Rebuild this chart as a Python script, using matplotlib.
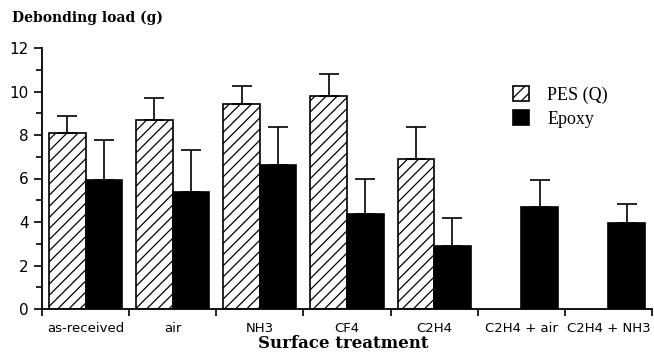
import numpy as np
import matplotlib
matplotlib.use("Agg")
import matplotlib.pyplot as plt

# valeurs
categories = ["as-received", "air", "NH3", "CF4", "C2H4", "C2H4 + air", "C2H4 + NH3"]
pes = [8.08, 8.70, 9.43, 9.80, 6.88, np.nan, np.nan]
pes_top = [8.89, 9.72, 10.23, 10.82, 8.37, np.nan, np.nan]
epoxy = [5.93, 5.36, 6.62, 4.35, 2.89, 4.67, 3.96]
epoxy_top = [7.77, 7.33, 8.37, 5.98, 4.19, 5.92, 4.84]

pes = np.array(pes)
epoxy = np.array(epoxy)
pes_err = np.array(pes_top) - pes
epoxy_err = np.array(epoxy_top) - epoxy

plt.rcParams['hatch.linewidth'] = 0.9

fig = plt.figure(figsize=(6.54, 3.54), dpi=100)
ax = fig.add_axes([42/654, 1 - 309/354, 610/654, 261/354])

x = np.arange(len(categories))
w = 0.42
ok = ~np.isnan(pes)
ax.bar(x[ok] - w/2, pes[ok], w, color="white", edgecolor="black", hatch="///",
       linewidth=1.2, label="PES (Q)",
       yerr=[np.zeros(ok.sum()), pes_err[ok]], capsize=7,
       error_kw=dict(elinewidth=1.2, capthick=1.2, ecolor="black"))
ax.bar(x + w/2, epoxy, w, color="black", edgecolor="black", linewidth=1.2,
       label="Epoxy",
       yerr=[np.zeros(len(x)), epoxy_err], capsize=7,
       error_kw=dict(elinewidth=1.2, capthick=1.2, ecolor="black"))

ax.set_xlim(-0.5, len(categories) - 0.5)
ax.set_ylim(0, 12)
ax.spines['top'].set_visible(False)
ax.spines['right'].set_visible(False)
ax.spines['left'].set_linewidth(1.3)
ax.spines['bottom'].set_linewidth(1.3)

ax.set_yticks(np.arange(0, 13, 2))
ax.set_yticks(np.arange(1, 12, 2), minor=True)
ax.set_xticks(x)
ax.set_xticklabels(categories)
ax.set_xticks(np.arange(-0.5, len(categories), 1), minor=True)
ax.tick_params(axis='x', which='major', length=0, pad=9, labelsize=9.5)
ax.tick_params(axis='x', which='minor', length=5, width=1.2, direction='out')
ax.tick_params(axis='y', which='major', length=6, width=1.2, labelsize=11)
ax.tick_params(axis='y', which='minor', length=4, width=1.2)

fig.text(12/654, 1 - 18/354, "Debonding load (g)", family="DejaVu Serif",
         fontweight="bold", fontsize=10, va="center", ha="left")
fig.text(343/654, 1 - 343/354, "Surface treatment", family="DejaVu Serif",
         fontweight="bold", fontsize=12, va="center", ha="center")

ax.legend(loc="upper left", bbox_to_anchor=(0.772, 0.855), frameon=False,
          borderpad=0, borderaxespad=0,
          prop={"family": "Liberation Serif", "size": 13},
          handlelength=0.9, handleheight=0.9, handletextpad=1.0, labelspacing=0.35)

fig.savefig("out.png", dpi=100)
